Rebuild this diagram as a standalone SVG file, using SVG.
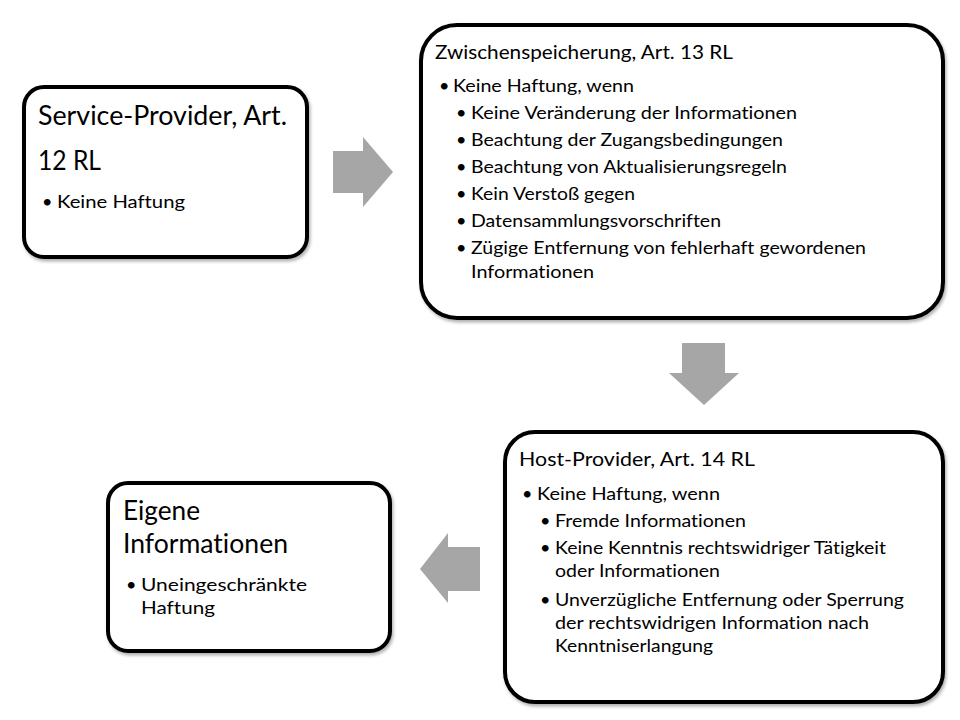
<svg xmlns="http://www.w3.org/2000/svg" width="960" height="720" viewBox="0 0 960 720">
<defs>
<filter id="sh" x="-5%" y="-5%" width="110%" height="115%">
<feDropShadow dx="1.5" dy="2.5" stdDeviation="1.5" flood-color="#000" flood-opacity="0.3"/>
</filter>
</defs>
<style>
.box{fill:#fff;stroke:#000;stroke-width:4;filter:url(#sh)}
.arr{fill:#a6a6a6}
text{font-family:Lato,"Open Sans",sans-serif;fill:#000;font-weight:400;font-variant-ligatures:none}
.big{font-size:26px}
.h{font-size:19px}
.t{font-size:18px}
</style>
<rect width="960" height="720" fill="#fff"/>
<g id="connectors">
<polygon class="arr" points="333,151 363,151 363,137 393,172 363,207 363,193 333,193"/>
<polygon class="arr" points="682,343 725,343 725,373 739,373 704,405 669,373 682,373"/>
<polygon class="arr" points="480,547 448,547 448,533 420,569 448,603 448,591 480,591"/>
</g>
<g id="n1">
<rect class="box" x="24" y="87" width="283" height="170" rx="20"/>
<text class="big" x="38" y="125" textLength="249" lengthAdjust="spacingAndGlyphs">Service-Provider, Art.</text>
<text class="big" x="38" y="170" textLength="63" lengthAdjust="spacingAndGlyphs">12 RL</text>
<text class="t" x="42" y="208">•</text>
<text class="t" x="57" y="208" textLength="128" lengthAdjust="spacingAndGlyphs">Keine Haftung</text>
</g>
<g id="n2">
<rect class="box" x="421" y="25" width="522" height="293" rx="36"/>
<text class="h" x="435" y="59" textLength="298" lengthAdjust="spacingAndGlyphs">Zwischenspeicherung, Art. 13 RL</text>
<text class="t" x="439" y="92">•</text>
<text class="t" x="453" y="92" textLength="181" lengthAdjust="spacingAndGlyphs">Keine Haftung, wenn</text>
<text class="t" x="456" y="119">•</text><text class="t" x="471" y="119" textLength="326" lengthAdjust="spacingAndGlyphs">Keine Veränderung der Informationen</text>
<text class="t" x="456" y="146">•</text><text class="t" x="471" y="146" textLength="312" lengthAdjust="spacingAndGlyphs">Beachtung der Zugangsbedingungen</text>
<text class="t" x="456" y="173">•</text><text class="t" x="471" y="173" textLength="316" lengthAdjust="spacingAndGlyphs">Beachtung von Aktualisierungsregeln</text>
<text class="t" x="456" y="200">•</text><text class="t" x="471" y="200" textLength="164" lengthAdjust="spacingAndGlyphs">Kein Verstoß gegen</text>
<text class="t" x="456" y="227">•</text><text class="t" x="471" y="227" textLength="250" lengthAdjust="spacingAndGlyphs">Datensammlungsvorschriften</text>
<text class="t" x="456" y="254">•</text><text class="t" x="471" y="254" textLength="395" lengthAdjust="spacingAndGlyphs">Zügige Entfernung von fehlerhaft gewordenen</text>
<text class="t" x="471" y="278" textLength="123" lengthAdjust="spacingAndGlyphs">Informationen</text>
</g>
<g id="n3">
<rect class="box" x="505" y="432" width="438" height="270" rx="30"/>
<text class="h" x="519" y="466" textLength="236" lengthAdjust="spacingAndGlyphs">Host-Provider, Art. 14 RL</text>
<text class="t" x="522" y="500">•</text><text class="t" x="537" y="500" textLength="183" lengthAdjust="spacingAndGlyphs">Keine Haftung, wenn</text>
<text class="t" x="540" y="527">•</text><text class="t" x="555" y="527" textLength="191" lengthAdjust="spacingAndGlyphs">Fremde Informationen</text>
<text class="t" x="540" y="554">•</text><text class="t" x="555" y="554" textLength="331" lengthAdjust="spacingAndGlyphs">Keine Kenntnis rechtswidriger Tätigkeit</text>
<text class="t" x="555" y="577" textLength="165" lengthAdjust="spacingAndGlyphs">oder Informationen</text>
<text class="t" x="540" y="606">•</text><text class="t" x="555" y="606" textLength="349" lengthAdjust="spacingAndGlyphs">Unverzügliche Entfernung oder Sperrung</text>
<text class="t" x="555" y="629" textLength="314" lengthAdjust="spacingAndGlyphs">der rechtswidrigen Information nach</text>
<text class="t" x="555" y="652" textLength="158" lengthAdjust="spacingAndGlyphs">Kenntniserlangung</text>
</g>
<g id="n4">
<rect class="box" x="108" y="483" width="282" height="168" rx="20"/>
<text class="big" x="123" y="520" textLength="77" lengthAdjust="spacingAndGlyphs">Eigene</text>
<text class="big" x="123" y="553" textLength="165" lengthAdjust="spacingAndGlyphs">Informationen</text>
<text class="t" x="126" y="591">•</text><text class="t" x="141" y="591" textLength="166" lengthAdjust="spacingAndGlyphs">Uneingeschränkte</text>
<text class="t" x="141" y="614" textLength="74" lengthAdjust="spacingAndGlyphs">Haftung</text>
</g>
</svg>
